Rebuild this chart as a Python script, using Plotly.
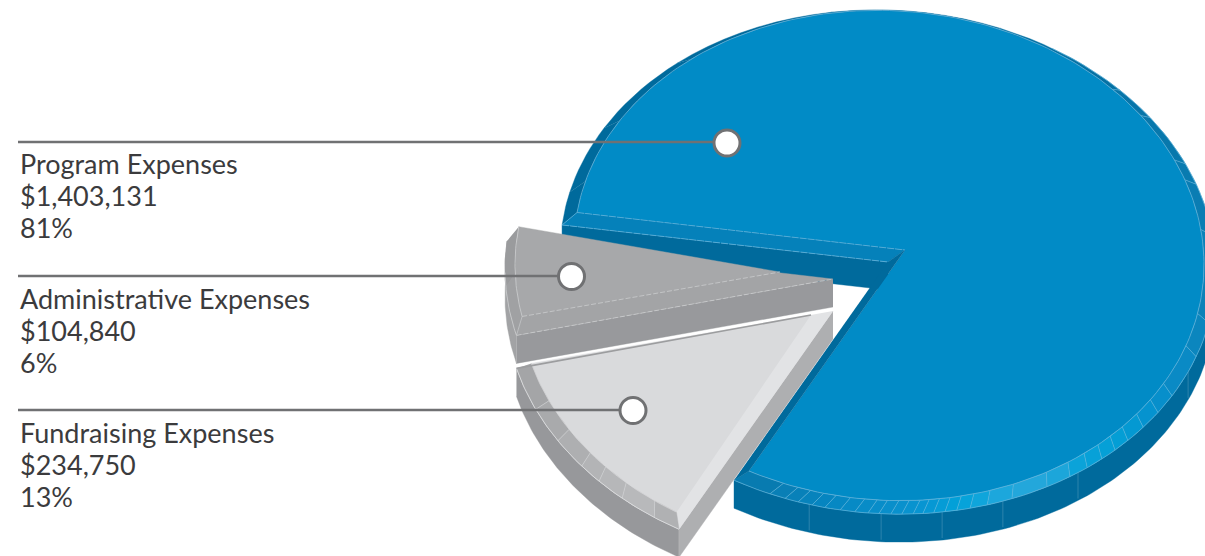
import numpy as np
import plotly.graph_objects as go

# Expense breakdown
categories = ["Program Expenses", "Administrative Expenses", "Fundraising Expenses"]
amounts = [1403131, 104840, 234750]
percents = [81, 6, 13]

# Callout anchors, one per category
dot_x = [727, 571.5, 633]
dot_y = [143, 276.5, 410.5]
line_y = [142, 276, 410]
label_top_y = [163, 298, 432]

W, H = 1205, 556
DEPTH = 28
START = 186.4  # parameter angle where the program slice begins (degrees)

OUTER = dict(cx=888, cy=262, rx=328, ry=252, s=9)
INNER = dict(cx=889, cy=255.5, rx=315, ry=245, s=9)

BLUE_TOP, BLUE_WALL, BLUE_CUT = "#018bc6", "#006a9c", "#0581ba"
INK, LEADER = "#3b3b3d", "#707173"
BLUE_LINE = "#62b3da"

# Shading around the bevel of the large slice: (angle, colour)
rim_stops = [(186, "#006a9c"), (270, "#006a9c"), (310, "#0673a6"), (340, "#0a7cb1"),
             (360, "#0c82b8"), (375, "#0c86be"), (388, "#0a8cc8"), (398, "#0595d0"),
             (406, "#04a0d7"), (414, "#0aa3d9"), (420, "#22a7db"), (428, "#24a8dc"),
             (433, "#12a6dc"), (438, "#03a3da"), (444, "#0796d3"), (450, "#0a90cc"),
             (460, "#0688c3"), (470, "#0a7fb6"), (478, "#0878ac")]
rim_breaks = [186.4, 194, 210, 230, 260, 290, 315, 323, 335, 340, 352, 372, 380, 390,
              394.6, 398.9, 403, 406.2, 409.3, 412.6, 416.3, 421, 427.8, 432.4, 435.5,
              437.9, 440, 442, 443.9, 445.6, 447.6, 449.5, 451.6, 453.5, 455.8, 458.4,
              461.1, 463.4, 465.9, 468.3, 471.1, 478]
side_seams = [383.8, 414.6, 429.5, 440.5, 451.2, 463.9 + 0.0]

fund_breaks = [164.8, 155, 147, 140, 135.5, 130, 123, 118]
fund_rim = ["#a4a5a7", "#a9aaac", "#aeafb1", "#b3b4b6", "#b6b7b9", "#b8b9bb", "#b0b1b3"]

fig = go.Figure()


def ell(t, g, off=(0, 0)):
    r = np.radians(t)
    return (g["cx"] + g["rx"] * np.cos(r) + off[0],
            g["cy"] + g["ry"] * np.sin(r) + g["s"] * np.cos(r) + off[1])


def poly(xs, ys, color):
    fig.add_trace(go.Scatter(x=list(xs), y=list(ys), mode="lines", fill="toself",
                             fillcolor=color, line=dict(color=color, width=0.4),
                             hoverinfo="skip", showlegend=False))


def stroke(xs, ys, color, width=0.8, dash="solid"):
    fig.add_trace(go.Scatter(x=list(xs), y=list(ys), mode="lines",
                             line=dict(color=color, width=width, dash=dash),
                             hoverinfo="skip", showlegend=False))


def span(a, b, n=80):
    return np.linspace(a, b, n)


def mix(t):
    ts = [p[0] for p in rim_stops]
    rgb = [[int(p[1][i:i + 2], 16) for i in (1, 3, 5)] for p in rim_stops]
    c = [np.interp(t, ts, [v[k] for v in rgb]) for k in range(3)]
    return "rgb(%d,%d,%d)" % tuple(c)


# Slice angles follow the stated percentages
a_blue_end = START + percents[0] * 3.6
a_admin_end = START - percents[1] * 3.6
a_fund_end = a_admin_end - percents[2] * 3.6

# --- Program slice ---
apex = (OUTER["cx"], OUTER["cy"])
apex_in = (905, 250)
i0, i1 = START + 1.6, a_blue_end - 1.6


def blue_inner_angle(t):
    return i0 + (t - START) * (i1 - i0) / (a_blue_end - START)


# Outer wall, then the straight cut wall
ts = span(350, a_blue_end, 140)
ox, oy = ell(ts, OUTER)
poly(np.r_[ox, ox[::-1]], np.r_[oy, oy[::-1] + DEPTH], BLUE_WALL)
cx0, cy0 = ell(START, OUTER)
poly([apex[0], cx0, cx0, apex[0]], [apex[1], cy0, cy0 + DEPTH, apex[1] + DEPTH], BLUE_WALL)
for t in side_seams:
    sx, sy = ell(t, OUTER)
    stroke([sx, sx], [sy, sy + DEPTH - 2], "#3f8fb5", 0.7)

# Top face
tx, ty = ell(span(i0, i1, 240), INNER)
poly(np.r_[apex_in[0], tx], np.r_[apex_in[1], ty], BLUE_TOP)

# Bevel segments around the rim
for a, b in zip(rim_breaks[:-1], rim_breaks[1:]):
    t_o = span(a, b, 10)
    t_i = blue_inner_angle(t_o)
    ax, ay = ell(t_o, OUTER)
    bx, by = ell(t_i[::-1], INNER)
    poly(np.r_[ax, bx], np.r_[ay, by], mix((a + b) / 2))
for t in rim_breaks[5:-1]:
    ax, ay = ell(t, OUTER)
    bx, by = ell(blue_inner_angle(t), INNER)
    stroke([ax, bx], [ay, by], BLUE_LINE, 0.6)

# Bevels along the two straight cuts
ix0, iy0 = ell(i0, INNER)
poly([apex[0], apex_in[0], ix0, cx0], [apex[1], apex_in[1], iy0, cy0], BLUE_CUT)
cx1, cy1 = ell(a_blue_end, OUTER)
ix1, iy1 = ell(i1, INNER)
poly([apex[0], apex_in[0], ix1, cx1], [apex[1], apex_in[1], iy1, cy1], BLUE_WALL)

stroke(tx, ty, BLUE_LINE, 0.8)
fx, fy = ell(span(300, a_blue_end, 120), OUTER)
stroke(fx, fy, BLUE_LINE, 0.7)
stroke([cx0, apex[0]], [cy0, apex[1]], BLUE_LINE, 0.8, "7px,1px")
stroke([ix0, apex_in[0]], [iy0, apex_in[1]], BLUE_LINE, 0.8, "7px,1px")
stroke([cx0, ix0], [cy0, iy0], BLUE_LINE, 0.6)

# --- Administrative slice ---
off_a = (-55, 16)
ap_a = (apex[0] + off_a[0], apex[1] + off_a[1] + 1)
ax_, ay_ = ell(span(START, a_admin_end, 40), OUTER, off_a)
poly(np.r_[ax_, ax_[::-1]], np.r_[ay_, ay_[::-1] + DEPTH], "#a2a3a5")
poly([ap_a[0], ax_[-1], ax_[-1], ap_a[0]],
     [ap_a[1], ay_[-1], ay_[-1] + DEPTH, ap_a[1] + DEPTH], "#98999c")
poly(np.r_[ap_a[0], ax_], np.r_[ap_a[1], ay_], "#a3a4a6")
shift_a = (-4, 2)
in_off_a = (off_a[0] + shift_a[0], off_a[1] + shift_a[1])
bx_, by_ = ell(span(START + 2.5, a_admin_end + 3, 30), INNER, in_off_a)
ap_ai = (780, 272)
poly(np.r_[ap_ai[0], bx_], np.r_[ap_ai[1], by_], "#a7a8aa")
# Darker bevel around the arc of the administrative slice
rx_, ry_ = ell(span(START, 176, 16), OUTER, off_a)
qx_, qy_ = ell(span(START + 2.5, 178, 16), INNER, in_off_a)
poly(np.r_[rx_, qx_[::-1]], np.r_[ry_, qy_[::-1]], "#9a9b9d")
rx_, ry_ = ell(span(176, a_admin_end, 16), OUTER, off_a)
qx_, qy_ = ell(span(178, a_admin_end + 3, 16), INNER, in_off_a)
poly(np.r_[rx_, qx_[::-1]], np.r_[ry_, qy_[::-1]], "#a0a1a3")
stroke(bx_, by_, "#d4d5d7", 0.7)
stroke(ax_[len(ax_) // 3:], ay_[len(ax_) // 3:], "#d4d5d7", 0.7)
stroke([bx_[-1], ap_ai[0]], [by_[-1], ap_ai[1]], "#d0d1d3", 0.7, "5px,2px")
stroke([ax_[-1], ap_a[0]], [ay_[-1], ap_a[1]], "#d0d1d3", 0.7, "5px,2px")
stroke([ax_[-1], bx_[-1]], [ay_[-1], by_[-1]], "#d0d1d3", 0.6)
stroke([ax_[-1], ax_[-1]], [ay_[-1], ay_[-1] + DEPTH], "#b8b9bb", 0.6)

# --- Fundraising slice ---
off_f = (-55, 49)
ap_f = (apex[0] + off_f[0], apex[1] + off_f[1])
gx, gy = ell(span(a_admin_end, a_fund_end, 60), OUTER, off_f)
poly(np.r_[gx, gx[::-1]], np.r_[gy, gy[::-1] + DEPTH], "#97989b")
poly([ap_f[0], gx[-1], gx[-1], ap_f[0]],
     [ap_f[1], gy[-1], gy[-1] + DEPTH, ap_f[1] + DEPTH], "#aeafb1")
f_i0, f_i1 = 164.0, 120.0


def fund_inner_angle(t):
    return f_i0 + (t - a_admin_end) * (f_i1 - f_i0) / (a_fund_end - a_admin_end)


hx, hy = ell(span(f_i0, f_i1, 60), INNER, off_f)
ap_fi = (811, 315)
poly(np.r_[gx, ap_f[0]], np.r_[gy, ap_f[1]], "#e2e3e5")
poly(np.r_[ap_fi[0], hx], np.r_[ap_fi[1], hy], "#d9dadc")
for k, (a, b) in enumerate(zip(fund_breaks[:-1], fund_breaks[1:])):
    t_o = span(a, b, 10)
    ax, ay = ell(t_o, OUTER, off_f)
    bx, by = ell(fund_inner_angle(t_o)[::-1], INNER, off_f)
    poly(np.r_[ax, bx], np.r_[ay, by], fund_rim[k])
for t in fund_breaks[1:-1]:
    ax, ay = ell(t, OUTER, off_f)
    bx, by = ell(fund_inner_angle(t), INNER, off_f)
    stroke([ax, bx], [ay, by], "#d4d5d7", 0.6)
stroke(gx, gy, "#e4e5e6", 0.7)
stroke(hx, hy, "#e4e5e6", 0.5)
stroke([gx[0], ap_fi[0]], [gy[0], ap_fi[1]], "#9c9d9f", 1.6)
stroke([gx[-1], gx[-1]], [gy[-1], gy[-1] + DEPTH], "#b8b9bb", 0.6)

# --- Callouts ---
for i, name in enumerate(categories):
    stroke([18, dot_x[i]], [line_y[i], line_y[i]], LEADER, 2.6)
    fig.add_trace(go.Scatter(x=[dot_x[i]], y=[dot_y[i]], mode="markers",
                             marker=dict(size=26, color="white",
                                         line=dict(color=LEADER, width=3)),
                             hoverinfo="skip", showlegend=False))
    lines = [name, f"${amounts[i]:,}", f"{percents[i]}%"]
    for j, text in enumerate(lines):
        fig.add_annotation(x=18, y=label_top_y[i] + j * 32, xref="x", yref="y",
                           xanchor="left", yanchor="middle", showarrow=False,
                           text=text, align="left",
                           font=dict(family="Lato", size=27, color=INK))

fig.update_layout(
    width=W, height=H, margin=dict(l=0, r=0, t=0, b=0),
    paper_bgcolor="white", plot_bgcolor="white", showlegend=False,
    xaxis=dict(range=[0, W], visible=False, fixedrange=True),
    yaxis=dict(range=[H, 0], visible=False, fixedrange=True),
)

fig.write_html("out.html", config=dict(displayModeBar=False))
